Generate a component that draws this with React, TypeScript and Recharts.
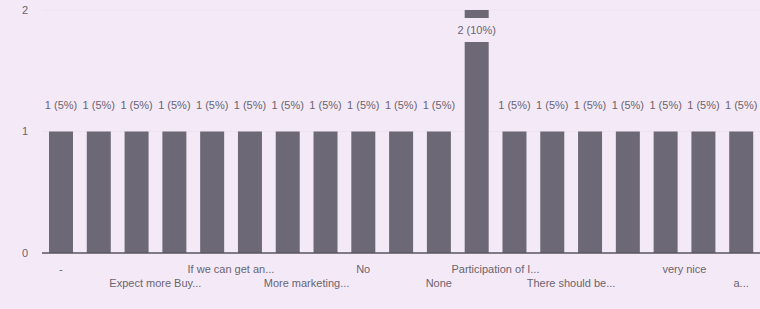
import { BarChart, Bar, XAxis, YAxis, CartesianGrid, LabelList } from 'recharts'

// survey answers, in the order the chart lists them
const categories = [
  '-',
  'Better events',
  'Expect more Buy...',
  'Good',
  'If we can get an...',
  'It was great',
  'More marketing...',
  'Nice',
  'No',
  'No comments',
  'None',
  'Participation of I...',
  'Satisfied',
  'There should be...',
  'Very good',
  'good',
  'very nice',
  'well done',
  'a...',
]
const responses = [1, 1, 1, 1, 1, 1, 1, 1, 1, 1, 1, 2, 1, 1, 1, 1, 1, 1, 1]
const yTicks = [0, 1, 2]
// only these answers get a label under the axis (the rest are skipped by the chart)
const shownTicks = [0, 2, 4, 6, 8, 10, 11, 13, 16, 18]

const W = 760
const H = 309
const Y_AXIS_W = 42
const BAND = (W - Y_AXIS_W) / categories.length

const BG = '#f4eaf7'
const BAR = '#6c6876'
const TEXT = '#6a6470'
const FONT = '"Liberation Sans", Arial, sans-serif'

const total = responses.reduce((a, b) => a + b, 0)
const data = categories.map((name, i) => ({ name, count: responses[i] }))

if (typeof document !== 'undefined') document.body.style.margin = '0'

function CountLabel(props: any) {
  const { x, y, width, value } = props
  const text = `${value} (${Math.round((value / total) * 100)}%)`
  const cx = x + width / 2
  // not enough room above the bar -> put the label on the bar with a box behind it
  if (y - 30 < 0) {
    return (
      <g>
        <rect x={cx - 22} y={y + 8} width={44} height={24} fill={BG} />
        <text x={cx} y={y + 24} textAnchor="middle" fontSize={11} fill={TEXT} fontFamily={FONT}>
          {text}
        </text>
      </g>
    )
  }
  return (
    <text x={cx} y={y - 23} textAnchor="middle" fontSize={11} fill={TEXT} fontFamily={FONT}>
      {text}
    </text>
  )
}

function AnswerTick(props: any) {
  const { x, y, payload } = props
  const pos = shownTicks.indexOf(payload.index)
  if (pos < 0) return <g />
  const label = String(payload.value)
  const dx = label.length > 5 ? BAND / 2 : 0
  const dy = pos % 2 === 0 ? 12 : 26
  return (
    <text x={x + dx} y={y + dy} textAnchor="middle" fontSize={11} fill={TEXT} fontFamily={FONT}>
      {label}
    </text>
  )
}

export default function App() {
  return (
    <div style={{ width: W, height: H, background: BG }}>
      <BarChart width={W} height={H} data={data} margin={{ top: 10, right: 0, bottom: 0, left: 0 }}>
        <CartesianGrid vertical={false} stroke="#ede3f0" />
        <XAxis
          dataKey="name"
          interval={0}
          tick={<AnswerTick />}
          tickLine={false}
          axisLine={{ stroke: '#5a5660', strokeWidth: 1.5 }}
          height={56}
        />
        <YAxis
          ticks={yTicks}
          domain={[0, 2]}
          width={Y_AXIS_W}
          tickLine={false}
          axisLine={false}
          tickMargin={8}
          tick={{ fontSize: 11, fill: TEXT, fontFamily: FONT }}
        />
        <Bar dataKey="count" fill={BAR} barSize={24} isAnimationActive={false}>
          <LabelList dataKey="count" content={<CountLabel />} />
        </Bar>
      </BarChart>
    </div>
  )
}
